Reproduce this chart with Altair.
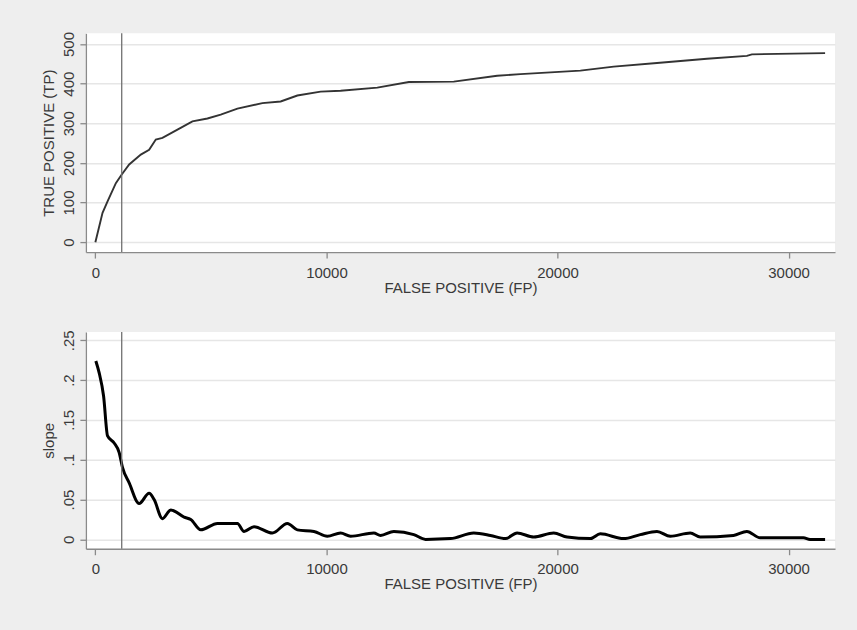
import altair as alt
import pandas as pd

# ---- data ----
fp_top = [0, 310, 527, 886, 1133, 1463, 1967, 2327, 2615, 2903, 3553, 4200, 4850, 5425,
          6147, 7227, 8019, 8741, 9748, 10613, 12200, 13566, 15511, 17387, 18394, 20989,
          22430, 24305, 26467, 28195, 28411, 31580]
tp_top = [0, 74, 103, 149, 170, 196, 221, 233, 259, 263, 284, 305, 312, 322,
          337, 351, 355, 370, 380, 382, 390, 404, 405, 420, 424, 433,
          443, 452, 463, 470, 474, 477]

fp_slope = [20, 165, 355, 527, 813, 1030, 1176, 1463, 1893, 2327, 2543, 2903, 3264, 3839,
            4128, 4560, 5283, 6147, 6434, 6865, 7660, 8309, 8741, 9460, 10037, 10613, 11045,
            12053, 12342, 12917, 13782, 14287, 15368, 16376, 17098, 17746, 18251, 18971,
            19835, 20413, 21420, 21853, 22862, 23582, 24305, 24880, 25744, 26176, 27616,
            28195, 28770, 30642, 30930, 31580]
slope_vals = [0.224, 0.209, 0.180, 0.130, 0.121, 0.109, 0.090, 0.071, 0.045, 0.058, 0.050,
              0.026, 0.037, 0.028, 0.025, 0.012, 0.020, 0.020, 0.010, 0.016, 0.008, 0.020,
              0.012, 0.010, 0.004, 0.008, 0.004, 0.008, 0.005, 0.010, 0.006, 0.000, 0.001,
              0.008, 0.005, 0.001, 0.008, 0.003, 0.008, 0.003, 0.001, 0.007, 0.001, 0.006,
              0.010, 0.004, 0.008, 0.003, 0.005, 0.010, 0.002, 0.002, 0.000, 0.000]

cutoff_fp = [1140]

x_ticks = [0, 10000, 20000, 30000]
tp_ticks = [0, 100, 200, 300, 400, 500]
slope_ticks = [0, 0.05, 0.1, 0.15, 0.2, 0.25]

x_title = "FALSE POSITIVE (FP)"
tp_title = "TRUE POSITIVE (TP)"
slope_title = "slope"

# ---- styling ----
FONT = "Liberation Sans"
TEXT = "#3a3a3a"
AXC = "#8a8a8a"
GRID = "#e6e6e6"
BG = "#eeeeee"
W = 750
H1 = 219
H2 = 217

df_top = pd.DataFrame({"fp": fp_top, "tp": tp_top})
df_slope = pd.DataFrame({"fp": fp_slope, "slope": slope_vals})
df_cut = pd.DataFrame({"fp": cutoff_fp})

x_scale = alt.Scale(domain=[-410, 32010], nice=False, zero=False)


def x_axis():
    return alt.Axis(values=x_ticks, format="d", grid=False, title=x_title,
                    labelBaseline="alphabetic", labelPadding=19,
                    titleBaseline="alphabetic", titleY=40)


def y_axis(values, title, h, label_expr=None):
    kw = dict(values=values, grid=True, title=title, labelAngle=270, labelAlign="center",
              labelBaseline="alphabetic", labelPadding=6, titleAngle=270,
              titleBaseline="alphabetic", titleAlign="center", titleX=-32, titleY=h / 2)
    if label_expr:
        kw["labelExpr"] = label_expr
    return alt.Axis(**kw)


top_line = alt.Chart(df_top).mark_line(color="#333333", strokeWidth=1.9).encode(
    x=alt.X("fp:Q", scale=x_scale, axis=x_axis()),
    y=alt.Y("tp:Q", scale=alt.Scale(domain=[-25, 527], nice=False, zero=False),
            axis=y_axis(tp_ticks, tp_title, H1)),
)
top_cut = alt.Chart(df_cut).mark_rule(color="#707070", strokeWidth=1.3).encode(
    x=alt.X("fp:Q", scale=x_scale)
)
top = alt.layer(top_line, top_cut).properties(width=W, height=H1)

slope_line = alt.Chart(df_slope).mark_line(color="#000000", strokeWidth=3,
                                           interpolate="monotone").encode(
    x=alt.X("fp:Q", scale=x_scale, axis=x_axis()),
    y=alt.Y("slope:Q", scale=alt.Scale(domain=[-0.0117, 0.2604], nice=False, zero=False),
            axis=y_axis(slope_ticks, slope_title, H2,
                        "datum.value == 0 ? '0' : replace(format(datum.value, '~g'), '0.', '.')")),
)
slope_cut = alt.Chart(df_cut).mark_rule(color="#707070", strokeWidth=1.3).encode(
    x=alt.X("fp:Q", scale=x_scale)
)
bottom = alt.layer(slope_line, slope_cut).properties(width=W, height=H2)

chart = alt.vconcat(top, bottom, spacing=34).properties(
    background=BG,
    padding={"left": 41, "top": 31, "right": 22, "bottom": 40},
).configure_view(
    fill="white", stroke=None
).configure_axis(
    domainColor=AXC, domainWidth=1.3, tickColor=AXC, tickWidth=1.3, tickSize=6,
    labelFont=FONT, labelFontSize=15, labelColor=TEXT,
    titleFont=FONT, titleFontSize=15, titleFontWeight="normal", titleColor=TEXT,
    gridColor=GRID, gridWidth=1.5,
)

chart.save("out.html", embed_options={"renderer": "svg", "actions": False})
